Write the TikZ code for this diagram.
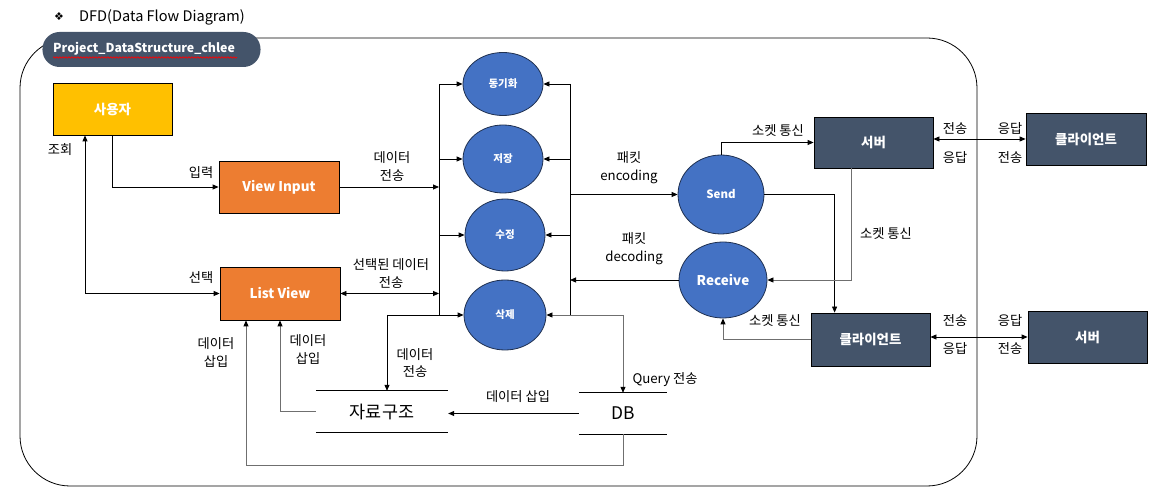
\documentclass[tikz,border=0pt]{standalone}
\usepackage{fontspec}
\setmainfont{Noto Sans CJK KR}
\newfontfamily\symfont{DejaVu Sans}
\usetikzlibrary{arrows.meta,shapes.geometric,calc,decorations.pathmorphing}
\definecolor{cgold}{HTML}{FFC000}
\definecolor{corng}{HTML}{ED7D31}
\definecolor{cblue}{HTML}{4472C4}
\definecolor{cnavy}{HTML}{1F3050}
\definecolor{cslate}{HTML}{44546A}
\definecolor{cgrey}{HTML}{6F6F6F}
\begin{document}
\begin{tikzpicture}[x=1bp,y=-1bp,
  bx/.style={draw=black, line width=0.8bp, text=white, font=\fontsize{13.5}{16}\selectfont\bfseries, minimum width=119bp, minimum height=52bp, inner sep=0pt},
  ell/.style={ellipse, draw=cnavy, line width=0.8bp, fill=cblue, text=white, inner sep=0pt, font=\fontsize{10.5}{12}\selectfont\bfseries},
  lbl/.style={font=\fontsize{13.3}{18}\selectfont, align=center, inner sep=0pt},
  ln/.style={draw, line width=0.8bp},
  arr/.style={ln, -{Triangle[length=6bp,width=5bp,color=black]}},
  arr2/.style={ln, {Triangle[length=6bp,width=5bp]}-{Triangle[length=6bp,width=5bp]}}
]
\useasboundingbox (0,0) rectangle (1165,496);

% frame
\draw[line width=0.8bp, rounded corners=50bp] (20,38) rectangle (977,486);

% title
\node[inner sep=0pt, font=\symfont\fontsize{11}{12}\selectfont] (sym) at (59,17) {❖};
\node[anchor=west, inner sep=0pt, font=\fontsize{14.6}{16}\selectfont] (title) at (79,17) {DFD(Data Flow Diagram)};

% pill
\node[fill=cslate, rounded corners=17bp, minimum width=218bp, minimum height=35bp, inner sep=0pt] (pill) at (151.5,49.5) {};
\node[anchor=west, inner sep=0pt, text=white, font=\fontsize{12.4}{14}\selectfont\bfseries] (pilltext) at (53,48.5) {Project\_DataStructure\_chlee};
\draw[red, line width=0.7bp, decorate, decoration={snake, segment length=3bp, amplitude=0.7bp}] (53,57.5) -- (237,57.5);

% boxes
\node[bx, fill=cgold] (user) at (112.5,109) {사용자};
\node[bx, fill=corng, minimum width=120bp] (vi) at (279,187) {View Input};
\node[bx, fill=corng, minimum width=120bp, minimum height=53bp] (lv) at (280,293.5) {List View};
\node[bx, fill=cslate, minimum height=51bp] (srv1) at (873.5,142.5) {서버};
\node[bx, fill=cslate, minimum width=120bp] (cli1) at (1086,139) {클라이언트};
\node[bx, fill=cslate, minimum height=53bp] (cli2) at (870.5,339.5) {클라이언트};
\node[bx, fill=cslate] (srv2) at (1087.5,337) {서버};

% processes
\node[ell, minimum width=80bp, minimum height=63bp] (e1) at (503,84) {동기화};
\node[ell, minimum width=80bp, minimum height=68bp] (e2) at (503,159) {저장};
\node[ell, minimum width=80bp, minimum height=72bp] (e3) at (505,235) {수정};
\node[ell, minimum width=82bp, minimum height=70bp] (e4) at (505,315) {삭제};
\node[ell, minimum width=86bp, minimum height=79bp, font=\fontsize{11.5}{13}\selectfont\bfseries] (send) at (721,194.5) {Send};
\node[ell, minimum width=88bp, minimum height=76bp, font=\fontsize{13.5}{15}\selectfont\bfseries] (recv) at (723,280) {Receive};

% data stores
\node[minimum width=132bp, minimum height=41bp, inner sep=0pt, font=\fontsize{17.5}{19}\selectfont] (ds) at (382,411.5) {자료구조};
\draw[line width=0.8bp] (ds.north west) -- (ds.north east) (ds.south west) -- (ds.south east);
\node[minimum width=88bp, minimum height=41bp, inner sep=0pt, font=\fontsize{17.5}{19}\selectfont] (db) at (623,413.5) {DB};
\draw[line width=0.8bp] (db.north west) -- (db.north east) (db.south west) -- (db.south east);

% coordinates
\coordinate (c1) at (85,293.5);
\coordinate (bL) at (439,84);
\coordinate (bLb) at (439,315);
\coordinate (c2) at (387,315);
\coordinate (bR) at (570,84);
\coordinate (bRb) at (570,315);
\coordinate (c3) at (623,315);
\coordinate (c4) at (246,465);

% left connectors
\draw[arr] (user.south) |- (vi.west);
\draw[arr] (c1) -- (c1 |- user.south);
\draw[arr] (c1) -- (lv.west);
\draw[arr] (vi.east) -- (vi.east -| bL);
\draw[arr2] (lv.east) -- (lv.east -| bL);

% left bus
\draw[ln] (bL) -- (bLb);
\draw[arr] (bL) -- (e1.west);
\draw[arr] (bL |- e2.west) -- (e2.west);
\draw[arr] (bL |- e3.west) -- (e3.west);
\draw[arr] (c2) -- (e4.west);
\draw[arr] (c2) -- (c2 |- ds.north);

% right bus
\draw[ln] (bR) -- (bRb);
\draw[arr] (bR) -- (e1.east);
\draw[arr] (bR |- e2.east) -- (e2.east);
\draw[arr] (bR |- e3.east) -- (e3.east);
\draw[arr, cgrey] (c3) -- (e4.east);
\draw[arr, cgrey] (c3) -- (db.north);
\draw[arr] (bR |- send.west) -- (send.west);
\draw[arr] (recv.west) -- (recv.west -| bR);

% stores
\draw[arr] (db.west) -- (db.west -| ds.east);
\draw[arr, cgrey] (db.south) |- (c4) -- (c4 |- lv.south);
\draw[arr, cgrey] (ds.west) -| (lv.south);

% network
\draw[arr] (send.north) |- (srv1.west);
\draw[arr] (send.east) -| ($(cli2.north west)+(24,0)$);
\draw[arr, cgrey] ($(srv1.south west)+(38,0)$) |- (recv.east);
\draw[arr, cgrey] (cli2.west) -| (recv.south);
\draw[arr2] (cli1.west) -- (cli1.west -| srv1.east);
\draw[arr2] (srv2.west) -- (srv2.west -| cli2.east);

% labels
\node[lbl] (l1) at (201,173) {입력};
\node[lbl] (l2) at (60,150) {조회};
\node[lbl] (l3) at (201,278) {선택};
\node[lbl] (l4) at (392,166.5) {데이터\\전송};
\node[lbl] (l5) at (391,273.5) {선택된 데이터\\전송};
\node[lbl] (l6) at (216,352) {데이터\\삽입};
\node[lbl] (l7) at (308,349) {데이터\\삽입};
\node[lbl] (l8) at (415,363) {데이터\\전송};
\node[lbl] (l9) at (629,167.5) {패킷\\encoding};
\node[lbl] (l10) at (634,248.5) {패킷\\decoding};
\node[lbl] (l11) at (778,131) {소켓 통신};
\node[lbl] (l12) at (886,234) {소켓 통신};
\node[lbl] (l13) at (775,321) {소켓 통신};
\node[lbl] (l14) at (955,129) {전송};
\node[lbl] (l15) at (1010,129) {응답};
\node[lbl] (l16) at (955,158) {응답};
\node[lbl] (l17) at (1010,158) {전송};
\node[lbl] (l18) at (955,321) {전송};
\node[lbl] (l19) at (1010,321) {응답};
\node[lbl] (l20) at (955,349) {응답};
\node[lbl] (l21) at (1010,349) {전송};
\node[lbl] (l22) at (518,397) {데이터 삽입};
\node[lbl] (l23) at (665,380) {Query 전송};
\end{tikzpicture}
\end{document}
